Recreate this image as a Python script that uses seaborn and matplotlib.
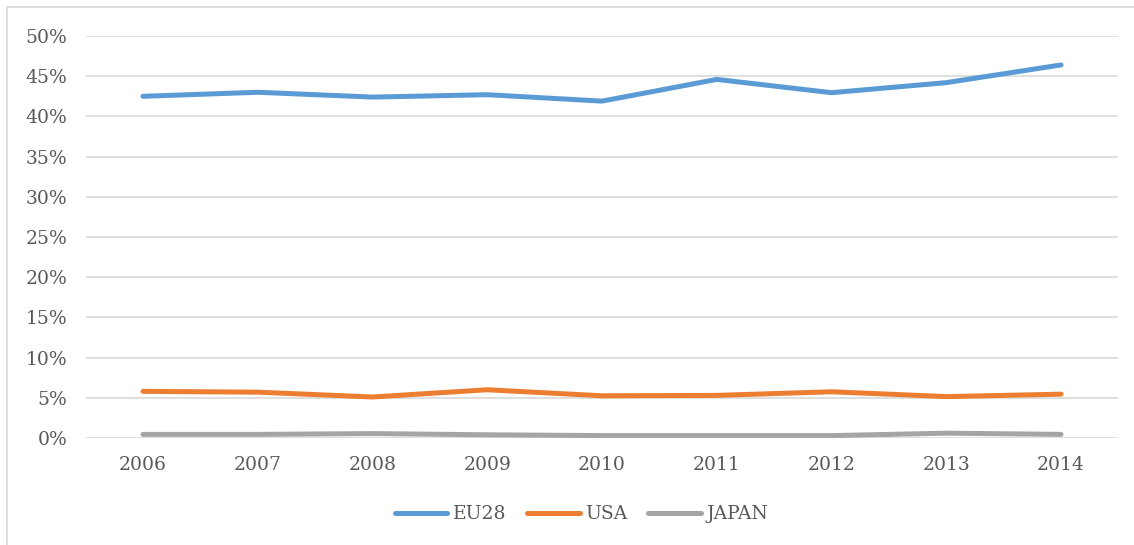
import matplotlib
matplotlib.use("Agg")
import matplotlib.pyplot as plt
import seaborn as sns
import pandas as pd
from matplotlib.ticker import FuncFormatter
from matplotlib.patches import Rectangle

years = ["2006", "2007", "2008", "2009", "2010", "2011", "2012", "2013", "2014"]
eu28 = [42.5, 43.0, 42.4, 42.7, 41.9, 44.6, 42.95, 44.2, 46.4]
usa = [5.8, 5.7, 5.1, 6.0, 5.25, 5.3, 5.75, 5.15, 5.45]
japan = [0.45, 0.45, 0.55, 0.4, 0.3, 0.3, 0.3, 0.6, 0.45]
series_names = ["EU28", "USA", "JAPAN"]
colors = ["#5B9BD5", "#ED7D31", "#A5A5A5"]

df = pd.concat([
    pd.DataFrame({"year": years, "value": vals, "series": name})
    for name, vals in zip(series_names, [eu28, usa, japan])
])

sns.set_theme(style="white")
plt.rcParams["font.family"] = ["DejaVu Serif"]
text_color = "#595959"

fig = plt.figure(figsize=(11.34, 5.45), dpi=100)
ax = fig.add_axes([85.6 / 1134, 1 - 438 / 545, (1118.4 - 85.6) / 1134, (438 - 36) / 545])

sns.lineplot(data=df, x="year", y="value", hue="series", hue_order=series_names,
             palette=colors, linewidth=3.6, ax=ax, sort=False,
             solid_capstyle="round")

ax.set_xlim(-0.5, 8.5)
ax.set_ylim(0, 50)
ax.set_yticks(range(0, 51, 5))
ax.yaxis.set_major_formatter(FuncFormatter(lambda v, p: f"{int(v)}%"))
ax.grid(axis="y", color="#D9D9D9", linewidth=1.2)
ax.set_axisbelow(True)
for s in ax.spines.values():
    s.set_visible(False)
ax.set_xlabel("")
ax.set_ylabel("")
ax.tick_params(axis="both", length=0, labelsize=13.5, colors=text_color)
ax.tick_params(axis="y", pad=13)
ax.tick_params(axis="x", pad=13)

handles, labels = ax.get_legend_handles_labels()
ax.legend(handles, labels, loc="center", bbox_to_anchor=(0.48, -0.19),
          ncol=3, frameon=False, fontsize=13.5, labelcolor=text_color,
          handlelength=2.8, handletextpad=0.3, columnspacing=1.1)

fig.patches.append(Rectangle((7 / 1134, -0.1), 1.2, (545 - 7) / 545 + 0.1, transform=fig.transFigure,
                             fill=False, edgecolor="#D9D9D9", linewidth=1.2))

fig.savefig("out.png", dpi=100)
